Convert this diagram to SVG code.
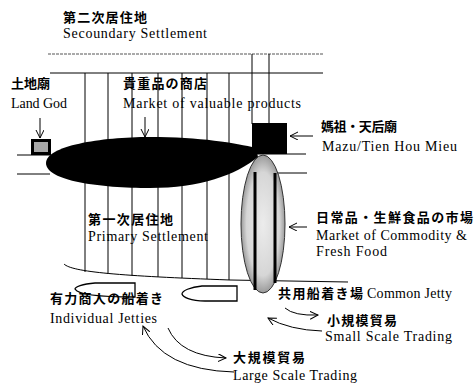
<svg xmlns="http://www.w3.org/2000/svg" width="474" height="385" viewBox="0 0 474 385">
<defs>
<marker id="v" markerUnits="userSpaceOnUse" markerWidth="10" markerHeight="9" refX="8" refY="4" orient="auto">
<path d="M0,0 L8,4 L0,8" fill="none" stroke="#000" stroke-width="1"/>
</marker>
<radialGradient id="stip" cx="0.5" cy="0.5" r="0.5">
<stop offset="0" stop-color="#ececec"/>
<stop offset="0.75" stop-color="#d6d6d6"/>
<stop offset="1" stop-color="#9a9a9a"/>
</radialGradient>
<style>
.jp{font-family:"Noto Sans CJK JP","Noto Sans CJK SC",sans-serif;font-size:13px;font-weight:bold;fill:#000}
.en{font-family:"Liberation Serif",serif;font-size:14px;fill:#000}
.ln{stroke:#000;stroke-width:1;fill:none}
.ar{stroke:#000;stroke-width:1;fill:none;marker-end:url(#v)}
</style>
</defs>
<rect width="474" height="385" fill="#fff"/>

<g id="settlement-lines">
<line x1="48" y1="54" x2="323" y2="54" stroke="#555" stroke-width="1" stroke-dasharray="3,1"/>
<line x1="50" y1="73" x2="323" y2="73" class="ln" stroke-width="1.3"/>
<line x1="85" y1="73" x2="85" y2="272" class="ln"/>
<line x1="108" y1="73" x2="108" y2="274" class="ln"/>
<line x1="132" y1="73" x2="132" y2="276" class="ln"/>
<line x1="158" y1="73" x2="158" y2="277" class="ln"/>
<line x1="182" y1="73" x2="182" y2="278" class="ln"/>
<line x1="207" y1="73" x2="207" y2="279" class="ln"/>
<line x1="229" y1="73" x2="229" y2="280" class="ln"/>
<line x1="252" y1="54" x2="252" y2="124" class="ln"/>
<line x1="269" y1="54" x2="269" y2="124" class="ln"/>
<path d="M64 264 C72 272 120 276 230 280 L348 282" class="ln" stroke-width="2.2"/>
</g>

<g id="road">
<line x1="17" y1="155" x2="50" y2="155" class="ln" stroke-width="1.3"/>
<line x1="17" y1="174" x2="50" y2="174" class="ln" stroke-width="1.3"/>
<line x1="255" y1="154" x2="306" y2="154" class="ln" stroke-width="1.3"/>
<line x1="275" y1="173" x2="307" y2="173" class="ln" stroke-width="1.3"/>
</g>

<g id="valuable-market">
<path d="M46 163 C46 146 100 137 150 137 C200 137 236 143 256 148 L258 157 C236 175 200 188 150 188 C100 188 46 181 46 163 Z" fill="#000"/>
</g>

<g id="land-god">
<rect x="32.5" y="140.5" width="17" height="13" fill="#a8a8a8" stroke="#000" stroke-width="3"/>
</g>

<g id="mazu">
<rect x="252" y="123" width="35" height="31" fill="#000"/>
</g>

<g id="commodity-market">
<ellipse cx="263" cy="224" rx="22" ry="69" fill="url(#stip)" stroke="#333" stroke-width="1"/>
<line x1="255" y1="172" x2="255" y2="290" stroke="#000" stroke-width="3"/>
<line x1="275" y1="173" x2="275" y2="283" stroke="#000" stroke-width="3"/>
</g>

<g id="individual-jetty">
<path d="M135 283 L95 283 C82 284 75 287 75 289 C77 293 92 297 135 297 Z" fill="#fff" stroke="#000" stroke-width="1.3"/>
</g>
<g id="common-jetty">
<path d="M237 286 L202 286 C190 287 182 291 182 294 C183 297 190 301 205 301 L237 301 Z" fill="#fff" stroke="#000" stroke-width="1.3"/>
</g>

<g id="connectors">
<line x1="40" y1="118" x2="40" y2="138" class="ar"/>
<line x1="145" y1="117" x2="145" y2="137" class="ar"/>
<line x1="313" y1="136" x2="290" y2="136" class="ar"/>
<line x1="307" y1="227" x2="289" y2="227" class="ar"/>
<path d="M285 308 Q294 316 318 315" class="ar"/>
<path d="M322 331 Q290 330 268 318" class="ar"/>
<path d="M168 328 Q180 356 226 358" class="ar"/>
<path d="M234 372 Q162 370 143 326" class="ar"/>
</g>

<g id="labels">
<text x="63" y="22" class="jp" textLength="84" lengthAdjust="spacing">第二次居住地</text>
<text x="63" y="38" class="en" textLength="144" lengthAdjust="spacing">Secoundary Settlement</text>
<text x="11" y="88" class="jp" textLength="39" lengthAdjust="spacing">土地廟</text>
<text x="11" y="108" class="en" textLength="56" lengthAdjust="spacing">Land God</text>
<text x="123" y="88" class="jp" textLength="84" lengthAdjust="spacing">貴重品の商店</text>
<text x="123" y="108" class="en" textLength="178" lengthAdjust="spacing">Market of valuable products</text>
<text x="321" y="131" class="jp" textLength="76" lengthAdjust="spacing">媽祖・天后廟</text>
<text x="322" y="151" class="en" textLength="135" lengthAdjust="spacing">Mazu/Tien Hou Mieu</text>
<text x="316" y="222" class="jp" textLength="157" lengthAdjust="spacing">日常品・生鮮食品の市場</text>
<text x="316" y="240" class="en" textLength="151" lengthAdjust="spacing">Market of Commodity &amp;</text>
<text x="316" y="256" class="en" textLength="71" lengthAdjust="spacing">Fresh Food</text>
<text x="88" y="224" class="jp" textLength="85" lengthAdjust="spacing">第一次居住地</text>
<text x="88" y="241" class="en" textLength="120" lengthAdjust="spacing">Primary Settlement</text>
<text x="278" y="298" class="jp" textLength="85" lengthAdjust="spacing">共用船着き場</text>
<text x="367" y="298" class="en" textLength="85" lengthAdjust="spacing">Common Jetty</text>
<text x="327" y="325" class="jp" textLength="70" lengthAdjust="spacing">小規模貿易</text>
<text x="325" y="341" class="en" textLength="127" lengthAdjust="spacing">Small Scale Trading</text>
<text x="233" y="362" class="jp" textLength="72" lengthAdjust="spacing">大規模貿易</text>
<text x="233" y="380" class="en" textLength="124" lengthAdjust="spacing">Large Scale Trading</text>
<text x="50" y="303" class="jp" textLength="113" lengthAdjust="spacing">有力商人の船着き</text>
<text x="50" y="323" class="en" textLength="107" lengthAdjust="spacing">Individual Jetties</text>
</g>
</svg>
